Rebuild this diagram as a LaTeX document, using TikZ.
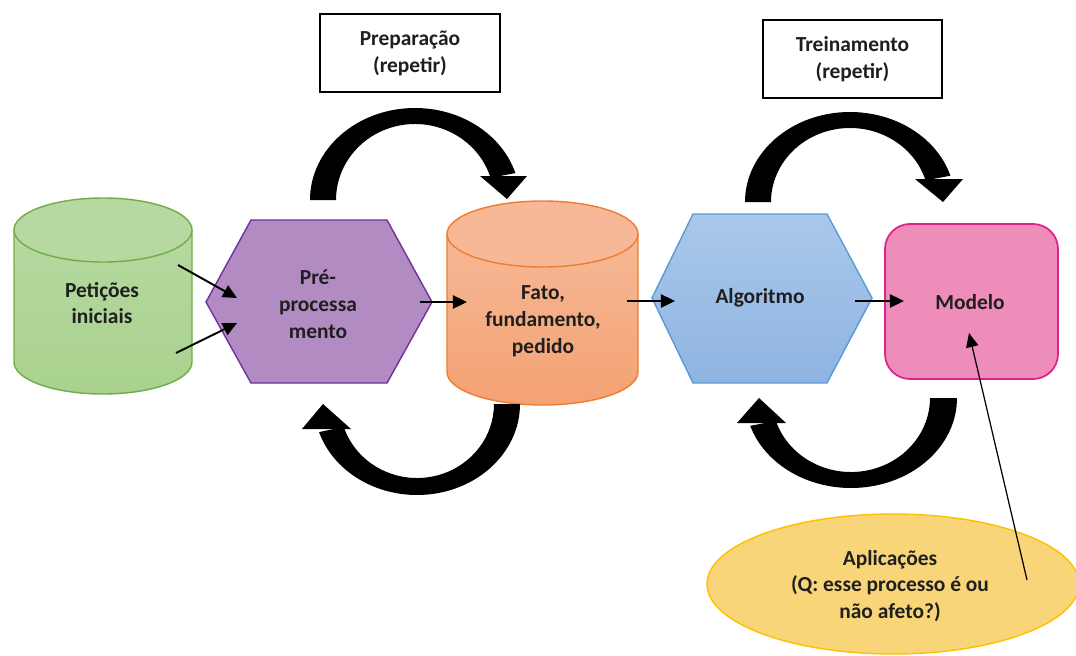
\documentclass[tikz,border=0pt]{standalone}
\usepackage{fontspec}
\setmainfont{Carlito}
\usetikzlibrary{arrows.meta,calc}
\definecolor{grnF}{HTML}{A9D18E}
\definecolor{grnT}{HTML}{B5D9A0}
\definecolor{grnD}{HTML}{70AD47}
\definecolor{purF}{HTML}{B28BC2}
\definecolor{purD}{HTML}{7030A0}
\definecolor{orgT}{HTML}{F6B896}
\definecolor{orgF}{HTML}{F4A273}
\definecolor{orgD}{HTML}{ED7D31}
\definecolor{bluT}{HTML}{A9C8EA}
\definecolor{bluF}{HTML}{8FB4E2}
\definecolor{bluD}{HTML}{5B9BD5}
\definecolor{pnkF}{HTML}{EF8DBA}
\definecolor{pnkD}{HTML}{E0218A}
\definecolor{ylwF}{HTML}{F9D57A}
\definecolor{ylwD}{HTML}{FFC000}
\begin{document}
\begin{tikzpicture}[x=0.02cm,y=-0.02cm,
  lbl/.style={font=\bfseries\fontsize{12.2}{15.3}\selectfont, align=center, text=black!88, inner sep=0pt},
  conn/.style={line width=1.1pt, -{Triangle[length=8pt,width=7.5pt]}},
  thinconn/.style={line width=0.7pt, -{Triangle[length=8pt,width=7pt]}},
  tipfill/.style={fill=black},
  boxnode/.style={draw=black, line width=1pt, fill=white, minimum width=3.6cm, minimum height=1.56cm, inner sep=0pt}]
\useasboundingbox (0,0) rectangle (1076,656);
\clip (0,0) rectangle (1076,656);
\fill[white] (0,0) rectangle (1076,656);

% top boxes
\node[boxnode, lbl] (prep) at (410,53) {Preparação\\(repetir)};
\node[boxnode, lbl, minimum width=3.58cm] (trein) at (852.5,59) {Treinamento\\(repetir)};

% green cylinder
\path[top color=grnT, bottom color=grnF, draw=grnD, line width=0.8pt]
  (14,230) -- (14,362) arc[start angle=180,end angle=0,x radius=89,y radius=32] -- (192,230) -- cycle;
\path[fill=grnT, draw=grnD, line width=0.8pt] (103,230) ellipse[x radius=89, y radius=32];
\node[lbl] (pet) at (102,303) {Petições\\iniciais};

% purple hexagon
\path[fill=purF, draw=purD, line width=0.8pt]
  (251,220) -- (387,220) -- (432,302) -- (387,383) -- (251,383) -- (206,302) -- cycle;
\node[lbl] (pre) at (318,304) {Pré-\\processa\\mento};

% orange cylinder
\path[top color=orgT, bottom color=orgF, draw=orgD, line width=0.8pt]
  (447,234) -- (447,372) arc[start angle=180,end angle=0,x radius=95.5,y radius=33] -- (638,234) -- cycle;
\path[fill=orgT, draw=orgD, line width=0.8pt] (542.5,234) ellipse[x radius=95.5, y radius=33];
\node[lbl] (fato) at (543,321) {Fato,\\fundamento,\\pedido};

% blue hexagon
\path[top color=bluT, bottom color=bluF, draw=bluD, line width=0.8pt]
  (693,214) -- (827,214) -- (872,298) -- (827,383) -- (693,383) -- (652,298) -- cycle;
\node[lbl] (alg) at (760,298) {Algoritmo};

% pink rounded rectangle
\path[fill=pnkF, draw=pnkD, line width=1pt, rounded corners=0.5cm] (885,224) rectangle (1058,379);
\node[lbl] (mod) at (970,302) {Modelo};

% yellow ellipse
\path[fill=ylwF, draw=ylwD, line width=0.8pt] (893,584) ellipse[x radius=186, y radius=70];
\node[lbl] (apl) at (890,586) {Aplicações\\(Q: esse processo é ou\\não afeto?)};

% connector end points
\coordinate (a1) at (178,265);
\coordinate (a2) at (237,298);
\coordinate (b1) at (176,353);
\coordinate (b2) at (237,323);
\coordinate (c1) at (420,302);
\coordinate (c2) at (467,302);
\coordinate (d1) at (627,301);
\coordinate (d2) at (675,301);
\coordinate (e1) at (855,301);
\coordinate (e2) at (904,301);
\coordinate (f1) at (1027,580);
\coordinate (f2) at (969,333);

\draw[conn] (a1) -- (a2);
\draw[conn] (b1) -- (b2);
\draw[conn] (c1) -- (c2);
\draw[conn] (d1) -- (d2);
\draw[conn] (e1) -- (e2);
\draw[thinconn] (f1) -- (f2);

% loop arrows (tapered crescents)
\fill[tipfill] (310,200) arc[start angle=180,end angle=343,x radius=105,y radius=92]
  -- ($(415,200)+(343:79 and 76)$) arc[start angle=343,end angle=180,x radius=79,y radius=76] -- cycle;
\fill[tipfill] (480,176) -- (527,176) -- (507,199) -- cycle;

\fill[tipfill] (520,404) arc[start angle=0,end angle=162,x radius=103,y radius=91]
  -- ($(417,404)+(162:77 and 74)$) arc[start angle=162,end angle=0,x radius=77,y radius=74] -- cycle;
\fill[tipfill] (302,429) -- (351,429) -- (323,404) -- cycle;

\fill[tipfill] (745,202) arc[start angle=180,end angle=343,x radius=105,y radius=90]
  -- ($(850,202)+(343:79 and 74)$) arc[start angle=343,end angle=180,x radius=79,y radius=74] -- cycle;
\fill[tipfill] (915,179) -- (963,179) -- (943,202) -- cycle;

\fill[tipfill] (957,398) arc[start angle=0,end angle=162,x radius=106,y radius=90]
  -- ($(851,398)+(162:79 and 74)$) arc[start angle=162,end angle=0,x radius=79,y radius=74] -- cycle;
\fill[tipfill] (737,423) -- (786,423) -- (759,398) -- cycle;
\end{tikzpicture}
\end{document}
